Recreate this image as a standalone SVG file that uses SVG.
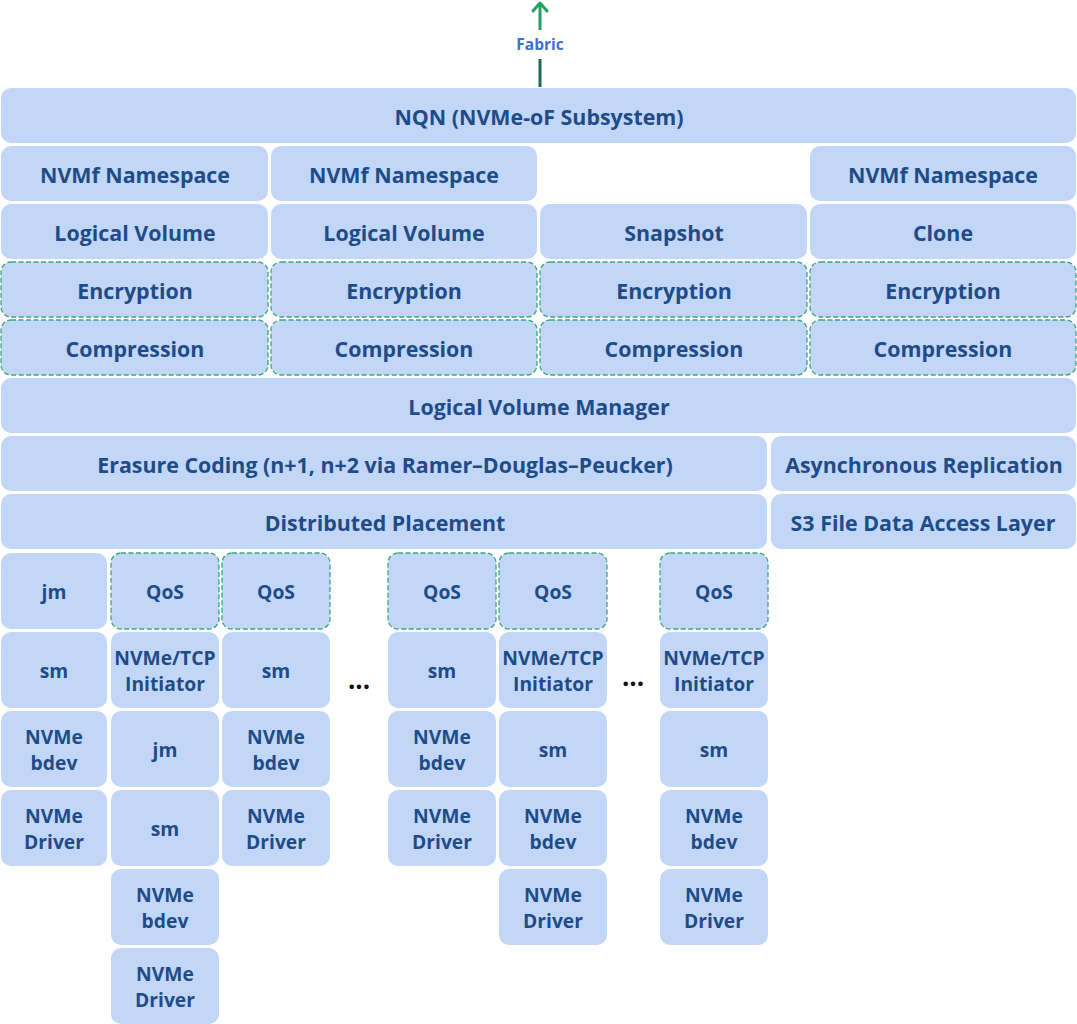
<svg xmlns="http://www.w3.org/2000/svg" width="1077" height="1024" viewBox="0 0 1077 1024">
  <style>
    .box { fill: #c2d7f7; }
    .dash { fill: #c2d7f7; stroke: #3fa67c; stroke-width: 1.3; stroke-dasharray: 5 2.5; }
    .t { font-family: "Open Sans", "Liberation Sans", sans-serif; font-weight: 700; fill: #1f4c88; text-anchor: middle; dominant-baseline: central; }
    .big { font-size: 21.4px; }
    .small { font-size: 19.3px; }
    .fab { font-family: "Open Sans", "Liberation Sans", sans-serif; font-weight: 700; font-size: 15.5px; fill: #3b6fd4; text-anchor: middle; dominant-baseline: central; }
    .dots { font-family: "Open Sans", "Liberation Sans", sans-serif; font-weight: 700; font-size: 26px; fill: #111; text-anchor: middle; }
  </style>
  <rect width="1077" height="1024" fill="#ffffff"/>

  <!-- connectors: fabric uplink -->
  <g id="connectors">
    <line x1="540" y1="30" x2="540" y2="4" stroke="#23a15e" stroke-width="3"/>
    <path d="M533,11 L540,3 L547,11" fill="none" stroke="#23a15e" stroke-width="3" stroke-linecap="round" stroke-linejoin="round"/>
    <line x1="540" y1="59" x2="540" y2="87" stroke="#1d6a44" stroke-width="3"/>
    <text class="fab" x="540" y="44">Fabric</text>
  </g>

  <!-- subsystem and upper stack -->
  <g id="nqn"><rect class="box" x="1" y="88" width="1075" height="55" rx="10"/><text class="t big" x="539" y="116">NQN (NVMe-oF Subsystem)</text></g>

  <g id="ns1"><rect class="box" x="1" y="146" width="267" height="55" rx="10"/><text class="t big" x="135" y="174">NVMf Namespace</text></g>
  <g id="ns2"><rect class="box" x="271" y="146" width="266" height="55" rx="10"/><text class="t big" x="404" y="174">NVMf Namespace</text></g>
  <g id="ns4"><rect class="box" x="810" y="146" width="266" height="55" rx="10"/><text class="t big" x="943" y="174">NVMf Namespace</text></g>

  <g id="lv1"><rect class="box" x="1" y="204" width="267" height="55" rx="10"/><text class="t big" x="135" y="232">Logical Volume</text></g>
  <g id="lv2"><rect class="box" x="271" y="204" width="266" height="55" rx="10"/><text class="t big" x="404" y="232">Logical Volume</text></g>
  <g id="snapshot"><rect class="box" x="540" y="204" width="267" height="55" rx="10"/><text class="t big" x="674" y="232">Snapshot</text></g>
  <g id="clone"><rect class="box" x="810" y="204" width="266" height="55" rx="10"/><text class="t big" x="943" y="232">Clone</text></g>

  <g id="enc1"><rect class="dash" x="1" y="262" width="267" height="55" rx="10"/><text class="t big" x="135" y="290">Encryption</text></g>
  <g id="enc2"><rect class="dash" x="271" y="262" width="266" height="55" rx="10"/><text class="t big" x="404" y="290">Encryption</text></g>
  <g id="enc3"><rect class="dash" x="540" y="262" width="267" height="55" rx="10"/><text class="t big" x="674" y="290">Encryption</text></g>
  <g id="enc4"><rect class="dash" x="810" y="262" width="266" height="55" rx="10"/><text class="t big" x="943" y="290">Encryption</text></g>

  <g id="cmp1"><rect class="dash" x="1" y="320" width="267" height="55" rx="10"/><text class="t big" x="135" y="348">Compression</text></g>
  <g id="cmp2"><rect class="dash" x="271" y="320" width="266" height="55" rx="10"/><text class="t big" x="404" y="348">Compression</text></g>
  <g id="cmp3"><rect class="dash" x="540" y="320" width="267" height="55" rx="10"/><text class="t big" x="674" y="348">Compression</text></g>
  <g id="cmp4"><rect class="dash" x="810" y="320" width="266" height="55" rx="10"/><text class="t big" x="943" y="348">Compression</text></g>

  <g id="lvm"><rect class="box" x="1" y="378" width="1075" height="55" rx="10"/><text class="t big" x="539" y="406">Logical Volume Manager</text></g>

  <g id="erasure"><rect class="box" x="1" y="436" width="766" height="55" rx="10"/><text class="t big" x="385" y="464">Erasure Coding (n+1, n+2 via Ramer–Douglas–Peucker)</text></g>
  <g id="async"><rect class="box" x="771" y="436" width="305" height="55" rx="10"/><text class="t big" x="924" y="464">Asynchronous Replication</text></g>

  <g id="placement"><rect class="box" x="1" y="494" width="766" height="55" rx="10"/><text class="t big" x="385" y="522">Distributed Placement</text></g>
  <g id="s3"><rect class="box" x="771" y="494" width="305" height="55" rx="10"/><text class="t big" x="923" y="522">S3 File Data Access Layer</text></g>

  <!-- per-device stacks -->
  <g id="c1-jm"><rect class="box" x="1" y="553" width="106" height="76" rx="10"/><text class="t small" x="54" y="591">jm</text></g>
  <g id="c1-sm"><rect class="box" x="1" y="632" width="106" height="76" rx="10"/><text class="t small" x="54" y="670">sm</text></g>
  <g id="c1-bdev"><rect class="box" x="1" y="711" width="106" height="76" rx="10"/><text class="t small" x="54" y="736">NVMe</text><text class="t small" x="54" y="762">bdev</text></g>
  <g id="c1-drv"><rect class="box" x="1" y="790" width="106" height="76" rx="10"/><text class="t small" x="54" y="815">NVMe</text><text class="t small" x="54" y="841">Driver</text></g>

  <g id="c2-qos"><rect class="dash" x="111" y="553" width="108" height="76" rx="10"/><text class="t small" x="165" y="591">QoS</text></g>
  <g id="c2-init"><rect class="box" x="111" y="632" width="108" height="76" rx="10"/><text class="t small" x="165" y="657">NVMe/TCP</text><text class="t small" x="165" y="683">Initiator</text></g>
  <g id="c2-jm"><rect class="box" x="111" y="711" width="108" height="76" rx="10"/><text class="t small" x="165" y="749">jm</text></g>
  <g id="c2-sm"><rect class="box" x="111" y="790" width="108" height="76" rx="10"/><text class="t small" x="165" y="828">sm</text></g>
  <g id="c2-bdev"><rect class="box" x="111" y="869" width="108" height="76" rx="10"/><text class="t small" x="165" y="894">NVMe</text><text class="t small" x="165" y="920">bdev</text></g>
  <g id="c2-drv"><rect class="box" x="111" y="948" width="108" height="76" rx="10"/><text class="t small" x="165" y="973">NVMe</text><text class="t small" x="165" y="999">Driver</text></g>

  <g id="c3-qos"><rect class="dash" x="222" y="553" width="108" height="76" rx="10"/><text class="t small" x="276" y="591">QoS</text></g>
  <g id="c3-sm"><rect class="box" x="222" y="632" width="108" height="76" rx="10"/><text class="t small" x="276" y="670">sm</text></g>
  <g id="c3-bdev"><rect class="box" x="222" y="711" width="108" height="76" rx="10"/><text class="t small" x="276" y="736">NVMe</text><text class="t small" x="276" y="762">bdev</text></g>
  <g id="c3-drv"><rect class="box" x="222" y="790" width="108" height="76" rx="10"/><text class="t small" x="276" y="815">NVMe</text><text class="t small" x="276" y="841">Driver</text></g>

  <g id="c4-qos"><rect class="dash" x="388" y="553" width="108" height="76" rx="10"/><text class="t small" x="442" y="591">QoS</text></g>
  <g id="c4-sm"><rect class="box" x="388" y="632" width="108" height="76" rx="10"/><text class="t small" x="442" y="670">sm</text></g>
  <g id="c4-bdev"><rect class="box" x="388" y="711" width="108" height="76" rx="10"/><text class="t small" x="442" y="736">NVMe</text><text class="t small" x="442" y="762">bdev</text></g>
  <g id="c4-drv"><rect class="box" x="388" y="790" width="108" height="76" rx="10"/><text class="t small" x="442" y="815">NVMe</text><text class="t small" x="442" y="841">Driver</text></g>

  <g id="c5-qos"><rect class="dash" x="499" y="553" width="108" height="76" rx="10"/><text class="t small" x="553" y="591">QoS</text></g>
  <g id="c5-init"><rect class="box" x="499" y="632" width="108" height="76" rx="10"/><text class="t small" x="553" y="657">NVMe/TCP</text><text class="t small" x="553" y="683">Initiator</text></g>
  <g id="c5-sm"><rect class="box" x="499" y="711" width="108" height="76" rx="10"/><text class="t small" x="553" y="749">sm</text></g>
  <g id="c5-bdev"><rect class="box" x="499" y="790" width="108" height="76" rx="10"/><text class="t small" x="553" y="815">NVMe</text><text class="t small" x="553" y="841">bdev</text></g>
  <g id="c5-drv"><rect class="box" x="499" y="869" width="108" height="76" rx="10"/><text class="t small" x="553" y="894">NVMe</text><text class="t small" x="553" y="920">Driver</text></g>

  <g id="c6-qos"><rect class="dash" x="660" y="553" width="108" height="76" rx="10"/><text class="t small" x="714" y="591">QoS</text></g>
  <g id="c6-init"><rect class="box" x="660" y="632" width="108" height="76" rx="10"/><text class="t small" x="714" y="657">NVMe/TCP</text><text class="t small" x="714" y="683">Initiator</text></g>
  <g id="c6-sm"><rect class="box" x="660" y="711" width="108" height="76" rx="10"/><text class="t small" x="714" y="749">sm</text></g>
  <g id="c6-bdev"><rect class="box" x="660" y="790" width="108" height="76" rx="10"/><text class="t small" x="714" y="815">NVMe</text><text class="t small" x="714" y="841">bdev</text></g>
  <g id="c6-drv"><rect class="box" x="660" y="869" width="108" height="76" rx="10"/><text class="t small" x="714" y="894">NVMe</text><text class="t small" x="714" y="920">Driver</text></g>

  <!-- ellipses between stacks -->
  <text class="dots" x="359" y="689">...</text>
  <text class="dots" x="633" y="686">...</text>
</svg>
